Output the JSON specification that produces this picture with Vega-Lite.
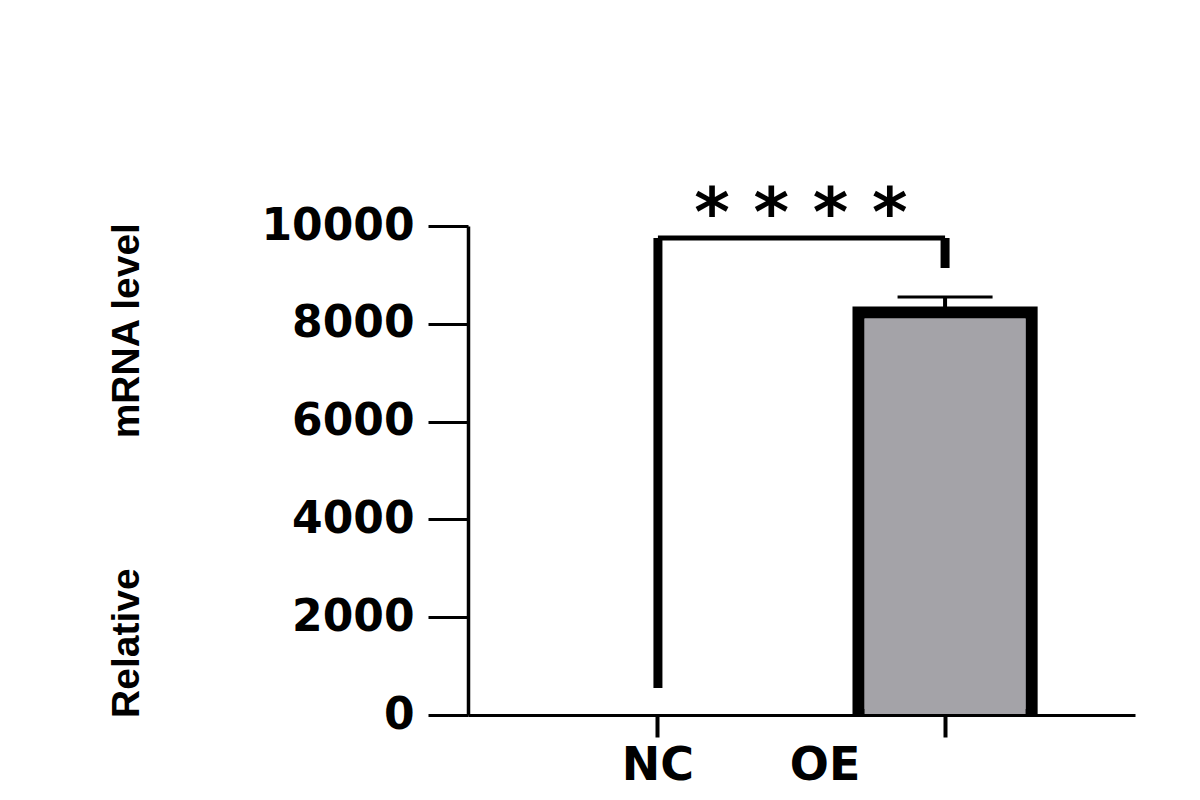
{
  "$schema": "https://vega.github.io/schema/vega-lite/v6.json",
  "width": 667,
  "height": 489,
  "autosize": {"type": "none"},
  "padding": {"left": 468, "top": 226, "right": 65, "bottom": 85},
  "background": "white",
  "config": {"view": {"stroke": null}, "axis": {"grid": false}},
  "datasets": {
    "bars": [
      {"group": "NC", "mean": 1},
      {"group": "OE", "mean": 8230, "err_top": 8550}
    ],
    "bracket_v": [
      {"group": "NC", "mean": 552, "y2": 9755},
      {"group": "OE", "mean": 9141, "y2": 9755}
    ],
    "bracket_h": [
      {"group": "NC", "group2": "OE", "mean": 9755}
    ],
    "stars": [
      {"group": "NC", "label": "* * * *", "mean": 9800}
    ]
  },
  "layer": [
    {
      "data": {"name": "bars"},
      "mark": {"type": "bar", "fill": "#a4a3a8", "stroke": "black", "clip": true},
      "encoding": {
        "x": {
          "field": "group",
          "type": "nominal",
          "scale": {"domain": ["NC", "OE"], "paddingInner": 0.397, "paddingOuter": 0.36},
          "axis": {
            "title": null,
            "zindex": 1,
            "labelAngle": 0,
            "labelFont": "DejaVu Sans",
            "labelFontWeight": "bold",
            "labelFontSize": 46,
            "labelColor": "black",
            "labelPadding": 6,
            "labelOffset": {"condition": {"test": "datum.value === 'OE'", "value": -120}, "value": 0},
            "tickSize": 22,
            "tickWidth": 4,
            "tickColor": "black",
            "domainWidth": 3,
            "domainColor": "black"
          }
        },
        "y": {
          "field": "mean",
          "type": "quantitative",
          "scale": {"domain": [0, 10000], "nice": false},
          "axis": {
            "title": "Relative\u00a0\u00a0\u00a0\u00a0\u00a0\u00a0\u00a0\u00a0\u00a0\u00a0\u00a0\u00a0mRNA level",
            "titleFont": "Liberation Sans",
            "titleFontWeight": "bold",
            "titleFontSize": 39,
            "titleColor": "black",
            "titleAngle": 270,
            "titleX": -330,
            "titleY": 244,
            "titleAlign": "center",
            "titleBaseline": "alphabetic",
            "values": [0, 2000, 4000, 6000, 8000, 10000],
            "format": "d",
            "labelFont": "DejaVu Sans",
            "labelFontWeight": "bold",
            "labelFontSize": 44,
            "labelColor": "black",
            "labelPadding": 14,
            "tickSize": 40,
            "tickWidth": 3,
            "tickColor": "black",
            "domainWidth": 3.5,
            "domainColor": "black"
          }
        },
        "strokeWidth": {"condition": {"test": "datum.mean < 100", "value": 0}, "value": 12}
      }
    },
    {
      "data": {"name": "bars"},
      "transform": [{"filter": "datum.mean > 100"}],
      "mark": {"type": "bar", "fill": "#a4a3a8", "strokeWidth": 0, "width": {"band": 0.93}, "yOffset": 6, "clip": true},
      "encoding": {
        "x": {"field": "group", "type": "nominal"},
        "y": {"field": "mean", "type": "quantitative"}
      }
    },
    {
      "data": {"name": "bars"},
      "transform": [{"filter": "datum.err_top != null"}],
      "mark": {"type": "rule", "color": "black", "strokeWidth": 4},
      "encoding": {
        "x": {"field": "group", "type": "nominal"},
        "y": {"field": "mean", "type": "quantitative"},
        "y2": {"field": "err_top"}
      }
    },
    {
      "data": {"name": "bars"},
      "transform": [{"filter": "datum.err_top != null"}],
      "mark": {"type": "tick", "color": "black", "opacity": 1, "size": 95, "thickness": 3, "orient": "horizontal"},
      "encoding": {
        "x": {"field": "group", "type": "nominal"},
        "y": {"field": "err_top", "type": "quantitative"}
      }
    },
    {
      "data": {"name": "bracket_v"},
      "mark": {"type": "rule", "color": "black", "strokeWidth": 9},
      "encoding": {
        "x": {"field": "group", "type": "nominal"},
        "y": {"field": "mean", "type": "quantitative"},
        "y2": {"field": "y2"}
      }
    },
    {
      "data": {"name": "bracket_h"},
      "mark": {"type": "rule", "color": "black", "strokeWidth": 5},
      "encoding": {
        "x": {"field": "group", "type": "nominal"},
        "x2": {"field": "group2"},
        "y": {"field": "mean", "type": "quantitative"}
      }
    },
    {
      "data": {"name": "stars"},
      "mark": {"type": "text", "font": "DejaVu Sans", "fontWeight": "bold", "fontSize": 68, "color": "black", "align": "center", "baseline": "alphabetic", "dx": 143},
      "encoding": {
        "x": {"field": "group", "type": "nominal"},
        "y": {"field": "mean", "type": "quantitative"},
        "text": {"field": "label"}
      }
    }
  ]
}
